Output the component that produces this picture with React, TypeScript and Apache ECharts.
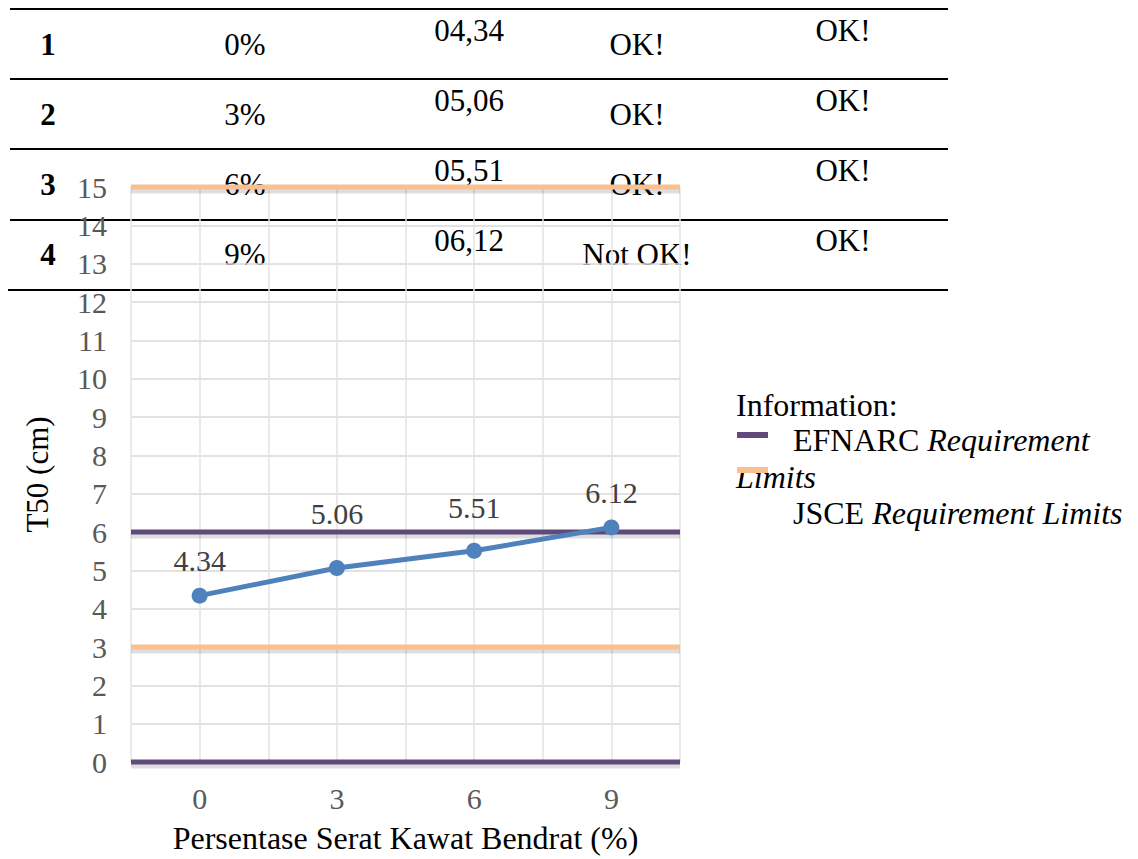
import React, { useEffect, useRef } from "react";
import * as echarts from "echarts";

// ---- table data ----
const rowNumbers = ["1", "2", "3", "4"];
const fiberPercents = ["0%", "3%", "6%", "9%"];
const t50Texts = ["04,34", "05,06", "05,51", "06,12"];
const efnarcChecks = ["OK!", "OK!", "OK!", "Not OK!"];
const jsceChecks = ["OK!", "OK!", "OK!", "OK!"];

// ---- chart data ----
const fiberX = [0, 3, 6, 9];
const t50Values = [4.34, 5.06, 5.51, 6.12];
const efnarcLimits = [0, 6];
const jsceLimits = [3, 15];
const xMin = -1.5;
const xMax = 10.5;
const yMin = 0;
const yMax = 15;

// label lift (px) per point, as the reference nudges labels away from the limit line
const labelLift = [12, 32, 20, 12];

const SERIF = "'Liberation Serif', 'Times New Roman', serif";
const TABLE_FONT = 31;
const LEGEND_FONT = 32;

export default function App() {
  const ref = useRef<HTMLDivElement>(null);
  useEffect(() => {
    if (!ref.current) return;
    const chart = echarts.init(ref.current, undefined, { renderer: "svg" });

    const graphics: any[] = [];
    // table horizontal rules
    const ruleYs = [9, 79, 149, 220, 290];
    ruleYs.forEach((y, i) => {
      graphics.push({
        type: "line",
        z: 0,
        shape: { x1: i === 4 ? 8 : 10, y1: y, x2: 948, y2: y },
        style: { stroke: "#000", lineWidth: 2 },
      });
    });
    const addText = (text: string, x: number, y: number, align: string, bold = false) => {
      graphics.push({
        type: "text",
        z: 0,
        x,
        y,
        style: {
          text,
          fill: "#000",
          font: `${bold ? "bold " : ""}${TABLE_FONT}px ${SERIF}`,
          align,
          verticalAlign: "middle",
        },
      });
    };
    rowNumbers.forEach((r, i) => {
      const base = 44 + 70 * i;
      const hi = 30 + 70 * i;
      addText(r, 48, base, "center", true);
      addText(fiberPercents[i], 245, base, "center");
      addText(t50Texts[i], 469, hi, "center");
      addText(efnarcChecks[i], 637, base, "center");
      addText(jsceChecks[i], 843, hi, "center");
    });

    // legend (Information)
    graphics.push({
      type: "text",
      x: 736,
      y: 405,
      style: { text: "Information:", fill: "#000", font: `${LEGEND_FONT}px ${SERIF}`, verticalAlign: "middle" },
    });
    graphics.push({
      type: "rect",
      shape: { x: 737, y: 432, width: 31, height: 6 },
      style: { fill: "#604a7b" },
    });
    graphics.push({
      type: "text",
      x: 793,
      y: 440,
      style: {
        text: "{n|EFNARC }{i|Requirement}",
        verticalAlign: "middle",
        rich: {
          n: { fill: "#000", fontSize: LEGEND_FONT, fontFamily: SERIF },
          i: { fill: "#000", fontSize: LEGEND_FONT, fontFamily: SERIF, fontStyle: "italic" },
        },
      },
    });
    graphics.push({
      type: "text",
      x: 736,
      y: 477,
      style: { text: "Limits", fill: "#000", font: `italic ${LEGEND_FONT}px ${SERIF}`, verticalAlign: "middle" },
    });
    graphics.push({
      type: "rect",
      z: 10,
      shape: { x: 737, y: 467, width: 31, height: 6 },
      style: { fill: "#fac090" },
    });
    graphics.push({
      type: "text",
      x: 793,
      y: 513,
      style: {
        text: "{n|JSCE }{i|Requirement Limits}",
        verticalAlign: "middle",
        rich: {
          n: { fill: "#000", fontSize: LEGEND_FONT, fontFamily: SERIF },
          i: { fill: "#000", fontSize: LEGEND_FONT, fontFamily: SERIF, fontStyle: "italic" },
        },
      },
    });

    // limit lines (with a soft offset shadow line drawn beneath)
    const SHADOW_OFFSET = 0.09;
    const limitSeries = (value: number, color: string, name: string) => [
      {
        type: "line",
        name: name + " shadow",
        data: [
          [xMin, value - SHADOW_OFFSET],
          [xMax, value - SHADOW_OFFSET],
        ],
        symbol: "none",
        silent: true,
        clip: false,
        z: 2,
        lineStyle: { color: "rgba(0,0,0,0.13)", width: 6 },
      },
      {
        type: "line",
        name,
        data: [
          [xMin, value],
          [xMax, value],
        ],
        symbol: "none",
        silent: true,
        clip: false,
        z: 3,
        lineStyle: { color, width: 5 },
      },
    ];

    chart.setOption({
      animation: false,
      backgroundColor: "transparent",
      textStyle: { fontFamily: SERIF },
      grid: { left: 131, right: 458, top: 187, bottom: 92, containLabel: false },
      xAxis: {
        type: "value",
        min: xMin,
        max: xMax,
        interval: 1.5,
        name: "Persentase Serat Kawat Bendrat (%)",
        nameLocation: "middle",
        nameGap: 60,
        nameTextStyle: { color: "#000", fontSize: 32, fontFamily: SERIF },
        axisLine: { show: false },
        axisTick: { show: false },
        axisLabel: {
          color: "#595959",
          fontSize: 30,
          fontFamily: SERIF,
          margin: 21,
          formatter: (v: number) => (fiberX.includes(v) ? String(v) : ""),
        },
        splitLine: { show: true, lineStyle: { color: "#e3e3e3", width: 1.5 } },
      },
      yAxis: {
        type: "value",
        min: yMin,
        max: yMax,
        interval: 1,
        name: "T50 (cm)",
        nameLocation: "middle",
        nameGap: 78,
        nameTextStyle: { color: "#000", fontSize: 31, fontFamily: SERIF },
        axisLine: { show: false },
        axisTick: { show: false },
        axisLabel: { color: "#595959", fontSize: 30, fontFamily: SERIF, margin: 24 },
        splitLine: { show: true, lineStyle: { color: "#d9d9d9", width: 1.5 } },
      },
      graphic: graphics,
      series: [
        ...limitSeries(efnarcLimits[0], "#604a7b", "EFNARC low"),
        ...limitSeries(efnarcLimits[1], "#604a7b", "EFNARC high"),
        ...limitSeries(jsceLimits[0], "#fac090", "JSCE low"),
        ...limitSeries(jsceLimits[1], "#fac090", "JSCE high"),
        {
          type: "line",
          name: "T50",
          z: 5,
          data: fiberX.map((x, i) => ({
            value: [x, t50Values[i]],
            label: { distance: labelLift[i] },
          })),
          symbol: "circle",
          symbolSize: 16,
          itemStyle: { color: "#4f81bd" },
          lineStyle: { color: "#4f81bd", width: 5 },
          label: {
            show: true,
            position: "top",
            distance: 12,
            color: "#404040",
            fontSize: 30,
            fontFamily: SERIF,
            formatter: (p: any) => p.value[1].toFixed(2),
          },
        },
      ],
    });
    return () => chart.dispose();
  }, []);
  return (
    <div
      ref={ref}
      style={{ position: "fixed", left: 0, top: 0, width: 1138, height: 859, background: "#fff" }}
    />
  );
}
